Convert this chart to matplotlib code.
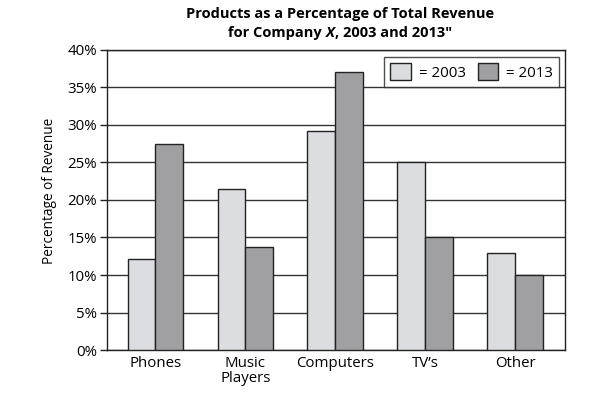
import matplotlib
matplotlib.use("Agg")
import matplotlib.pyplot as plt
import numpy as np
from matplotlib.patches import Patch

categories = ["Phones", "Music\nPlayers", "Computers", "TV\u2019s", "Other"]
values_2003 = [12.2, 21.4, 29.2, 25.0, 13.0]
values_2013 = [27.5, 13.7, 37.0, 15.0, 10.0]
yticks = [0, 5, 10, 15, 20, 25, 30, 35, 40]

plt.rcParams['font.family'] = ['Open Sans', 'DejaVu Sans']

fig = plt.figure(figsize=(6.04, 3.93), dpi=100)
ax = fig.add_axes([0.177, 0.1094, 0.758, 0.7634])

x = np.arange(len(categories))
w = 0.31
c1 = "#dcdde0"
c2 = "#a0a0a2"
ec = "#222222"
ax.bar(x - w/2, values_2003, width=w, color=c1, edgecolor=ec, linewidth=1.0, zorder=3)
ax.bar(x + w/2, values_2013, width=w, color=c2, edgecolor=ec, linewidth=1.0, zorder=3)

fs = 10.8
ax.set_xlim(-0.54, 4.55)
ax.set_ylim(0, 40)
ax.set_yticks(yticks)
ax.set_yticklabels([f"{v}%" for v in yticks], fontsize=fs)
ax.set_xticks(x)
ax.set_xticklabels(categories, fontsize=fs, linespacing=1.0)
ax.tick_params(axis='x', length=0, pad=4)
ax.tick_params(axis='y', length=5, width=1, color=ec, pad=2, direction='out')
ax.yaxis.grid(True, color="#333333", linewidth=1.0, zorder=0)
ax.set_axisbelow(True)
for s in ax.spines.values():
    s.set_color(ec)
    s.set_linewidth(1.0)

ax.set_ylabel("Percentage of Revenue", fontsize=9.8)
ax.yaxis.set_label_coords(-0.109, 0.53)

tfs = 10.5
tx = 0.563
fig.text(tx, 0.965, "Products as a Percentage of Total Revenue", ha='center', va='center',
         fontsize=tfs, fontweight='bold')

# second title line with bold-italic X
fig.canvas.draw()
r = fig.canvas.get_renderer()
parts = [("for Company ", 'normal'), ("X", 'italic'), (", 2003 and 2013\"", 'normal')]
widths = []
for s, st in parts:
    t = fig.text(0, 0, s, fontsize=tfs, fontweight='bold', fontstyle=st)
    widths.append(t.get_window_extent(r).width)
    t.remove()
total = sum(widths)
cur = tx * fig.bbox.width - total / 2
for (s, st), wd in zip(parts, widths):
    fig.text(cur / fig.bbox.width, 0.915, s, ha='left', va='center', fontsize=tfs,
             fontweight='bold', fontstyle=st)
    cur += wd

handles = [Patch(facecolor=c1, edgecolor=ec, linewidth=1.0, label="= 2003"),
           Patch(facecolor=c2, edgecolor=ec, linewidth=1.0, label="= 2013")]
leg = ax.legend(handles=handles, ncol=2, loc='upper right', bbox_to_anchor=(0.988, 0.975),
                fontsize=fs, frameon=True, fancybox=False, edgecolor=ec,
                handlelength=1.35, handleheight=1.35, handletextpad=0.55, columnspacing=0.8,
                borderpad=0.4, borderaxespad=0)
leg.get_frame().set_linewidth(1.0)

fig.savefig("out.png", dpi=100)
